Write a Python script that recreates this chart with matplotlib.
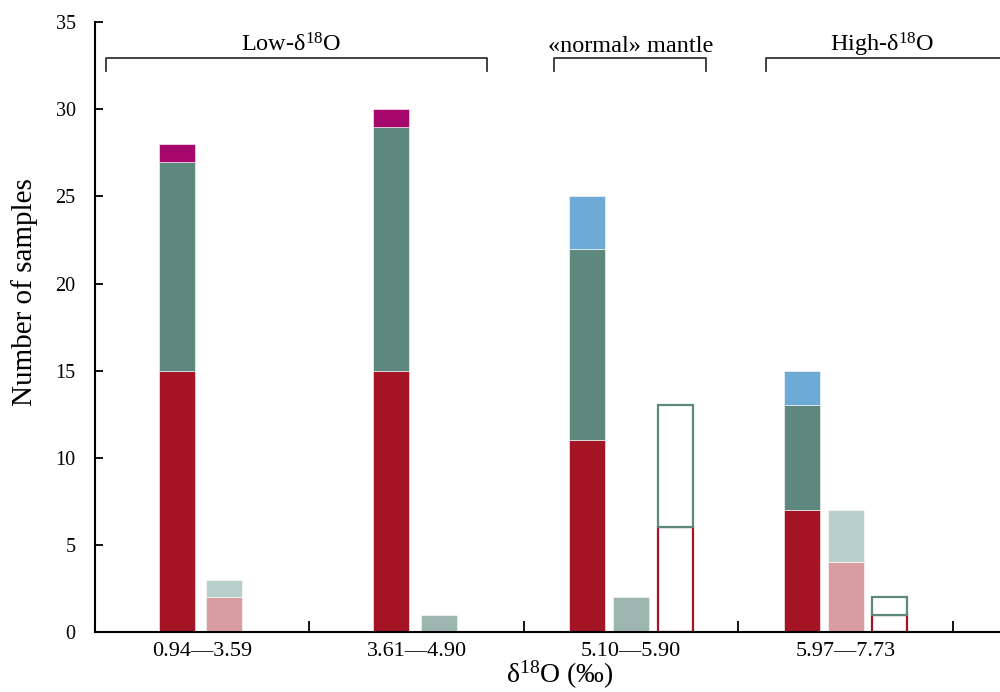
import matplotlib
matplotlib.use("Agg")
import matplotlib.pyplot as plt
import numpy as np

plt.rcParams['font.family'] = ['Liberation Serif', 'DejaVu Serif']
plt.rcParams['mathtext.fontset'] = 'custom'
plt.rcParams['mathtext.rm'] = 'Liberation Serif'
plt.rcParams['mathtext.it'] = 'Liberation Serif:italic'

# ---- data ----
categories = ['0.94—3.59', '3.61—4.90', '5.10—5.90', '5.97—7.73']
# bar 1 (stacked, solid)
b1_red = [15, 15, 11, 7]
b1_green = [12, 14, 11, 6]
b1_magenta = [1, 1, 0, 0]
b1_blue = [0, 0, 3, 2]
# bar 2 (stacked, light)
b2_pink = [2, 0, 0, 4]
b2_lightgreen = [1, 0, 0, 3]
b2_grey = [0, 1, 2, 0]
# bar 3 (stacked, outline)
b3_red = [0, 0, 6, 1]
b3_green = [0, 0, 7, 1]

groups = ['Low-δ$^{18}$O', '«normal» mantle', 'High-δ$^{18}$O']

RED = '#A51424'
GREEN = '#5E887D'
MAGENTA = '#A5086A'
BLUE = '#6DABD6'
PINK = '#D99CA1'
LGREEN = '#B8CFCA'
GREY = '#9DB6B0'

fig = plt.figure(figsize=(10, 6.92), dpi=100)
ax = fig.add_axes([0.095, 0.0867, 0.905, 0.8813])

n = len(categories)
x = np.arange(n) + 0.5
W = 0.168
STEP = 0.205

for i in range(n):
    has3 = (b3_red[i] + b3_green[i]) > 0
    nb = 3 if has3 else 2
    offs = [(k - (nb - 1) / 2) * STEP for k in range(nb)]
    if nb == 2:
        offs = [offs[0] - 0.015, offs[1]]
    # bar 1
    xc = x[i] + offs[0]
    bottom = 0
    for vals, col in [(b1_red, RED), (b1_green, GREEN), (b1_magenta, MAGENTA), (b1_blue, BLUE)]:
        if vals[i] > 0:
            ax.bar(xc, vals[i], W, bottom=bottom, color=col, edgecolor='white', linewidth=0.4)
            bottom += vals[i]
    # bar 2
    xc = x[i] + offs[1]
    bottom = 0
    for vals, col in [(b2_pink, PINK), (b2_lightgreen, LGREEN), (b2_grey, GREY)]:
        if vals[i] > 0:
            ax.bar(xc, vals[i], W, bottom=bottom, color=col, edgecolor='white', linewidth=0.4)
            bottom += vals[i]
    # bar 3
    if has3:
        xc = x[i] + offs[2]
        bottom = 0
        for vals, col in [(b3_red, RED), (b3_green, GREEN)]:
            if vals[i] > 0:
                ax.bar(xc, vals[i], W * 0.97, bottom=bottom, facecolor='white', edgecolor=col, linewidth=1.6)
                bottom += vals[i]

ax.set_xlim(0, 4.22)
ax.set_ylim(0, 35)
ax.spines['top'].set_visible(False)
ax.spines['right'].set_visible(False)
for s in ['left', 'bottom']:
    ax.spines[s].set_linewidth(1.5)

ax.set_yticks(np.arange(0, 36, 5))
ax.tick_params(axis='y', direction='in', length=6, width=1.3, labelsize=14.5, pad=14)
ax.set_xticks([1, 2, 3, 4])
ax.set_xticklabels([])
ax.set_xticks(x, minor=True)
ax.set_xticklabels(categories, minor=True)
ax.tick_params(axis='x', which='major', direction='in', length=8, width=1.3)
ax.tick_params(axis='x', which='minor', length=0, labelsize=16, pad=7)

fig.text(0.56, 0.002, 'δ$^{18}$O (‰)', ha='center', va='bottom', fontsize=20)
fig.text(0.025, 0.578, 'Number of samples', rotation=90, ha='center', va='center', fontsize=21)

# group brackets
brackets = [(0.05, 1.83), (2.14, 2.85), (3.13, 4.6)]
label_x = [0.915, 2.5, 3.67]
ytop, ybot = 32.95, 32.2
for (a, b), lab, lx in zip(brackets, groups, label_x):
    ax.plot([a, a, b, b], [ybot, ytop, ytop, ybot], color='#333333', lw=1.3, clip_on=False)
    ax.text(lx, 33.3, lab, ha='center', va='baseline', fontsize=17.5)

fig.savefig('out.png', dpi=100)
